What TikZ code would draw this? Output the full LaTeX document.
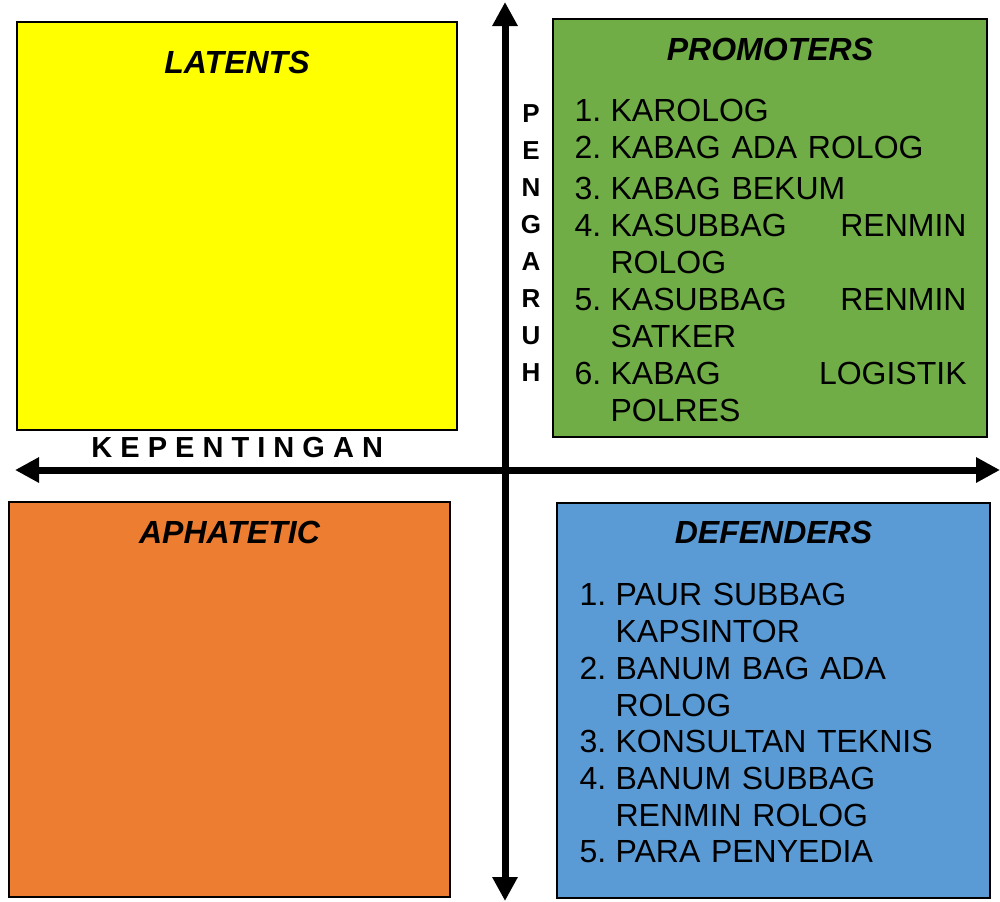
\documentclass[tikz,border=0pt]{standalone}
\usepackage{fontspec}
\setmainfont{Liberation Sans}
\usetikzlibrary{positioning, arrows.meta}
\definecolor{LatentColor}{RGB}{255,255,0}
\definecolor{PromoterColor}{RGB}{112,173,71}
\definecolor{ApatheticColor}{RGB}{237,125,49}
\definecolor{DefenderColor}{RGB}{91,155,213}
\newcommand{\numitem}[2]{\makebox[18pt][l]{#1}#2}
\newcommand{\contline}[1]{\hspace*{18pt}#1}
\tikzset{
  quadrant/.style={rectangle, draw=black, line width=0.8pt, inner sep=0pt},
  quadrant title/.style={inner sep=0pt, font=\fontsize{16}{19}\selectfont\bfseries\itshape},
  member list/.style={inner sep=0pt, align=left, font=\fontsize{16}{18.5}\selectfont},
  axis arrow/.style={line width=3.5pt, {Triangle[width=12pt, length=12pt]}-{Triangle[width=12pt, length=12pt]}},
  axis label/.style={inner sep=0pt, font=\fontsize{14.5}{18.5}\selectfont\bfseries}
}

\begin{document}
\begin{tikzpicture}[x=0.5pt, y=-0.5pt]
  \useasboundingbox (0,0) rectangle (1000,901);

  % Quadrants
  \node[quadrant, fill=LatentColor, minimum width=220pt, minimum height=204pt] (latents) at (237,226) {};
  \node[quadrant, fill=PromoterColor, minimum width=217pt, minimum height=209pt] (promoters) at (770,228) {};
  \node[quadrant, fill=ApatheticColor, minimum width=220.5pt, minimum height=197.5pt] (apathetic) at (229.5,699.5) {};
  \node[quadrant, fill=DefenderColor, minimum width=216.5pt, minimum height=197.5pt] (defenders) at (773.5,700.5) {};

  % Quadrant titles
  \node[quadrant title, below=15pt of latents.north] (latents title) {LATENTS};
  \node[quadrant title, below=10pt of promoters.north] (promoters title) {PROMOTERS};
  \node[quadrant title, below=10pt of apathetic.north] (apathetic title) {APHATETIC};
  \node[quadrant title, below=9.5pt of defenders.north] (defenders title) {DEFENDERS};

  % Stakeholder lists
  \node[member list, text width=196pt, below right=40.5pt and 11pt of promoters.north west] (promoters list) {
    \numitem{1.}{KAROLOG}\\
    \numitem{2.}{KABAG ADA ROLOG}\\[2pt]
    \numitem{3.}{KABAG BEKUM}\\
    \numitem{4.}{KASUBBAG\hfill RENMIN}\\
    \contline{ROLOG}\\
    \numitem{5.}{KASUBBAG\hfill RENMIN}\\
    \contline{SATKER}\\
    \numitem{6.}{KABAG\hfill LOGISTIK}\\
    \contline{POLRES}};
  \node[member list, text width=200pt, font=\fontsize{16}{18.35}\selectfont,
        below right=40.5pt and 11.5pt of defenders.north west] (defenders list) {
    \numitem{1.}{PAUR SUBBAG}\\
    \contline{KAPSINTOR}\\
    \numitem{2.}{BANUM BAG ADA}\\
    \contline{ROLOG}\\
    \numitem{3.}{KONSULTAN TEKNIS}\\
    \numitem{4.}{BANUM SUBBAG}\\
    \contline{RENMIN ROLOG}\\
    \numitem{5.}{PARA PENYEDIA}};

  % Axes
  \coordinate (top end) at (505,2);
  \coordinate (bottom end) at (505,901);
  \coordinate (left end) at (15,470);
  \coordinate (right end) at (1000,470);
  \draw[axis arrow] (bottom end) -- (top end);
  \draw[axis arrow] (left end) -- (right end);

  % Axis labels
  \node[axis label, anchor=base west] (kepentingan) at (91,457) {K E P E N T I N G A N};
  \node[axis label, font=\fontsize{13}{18.5}\selectfont\bfseries, align=center, anchor=north] (pengaruh) at (531,104) {P\\E\\N\\G\\A\\R\\U\\H};
\end{tikzpicture}
\end{document}
